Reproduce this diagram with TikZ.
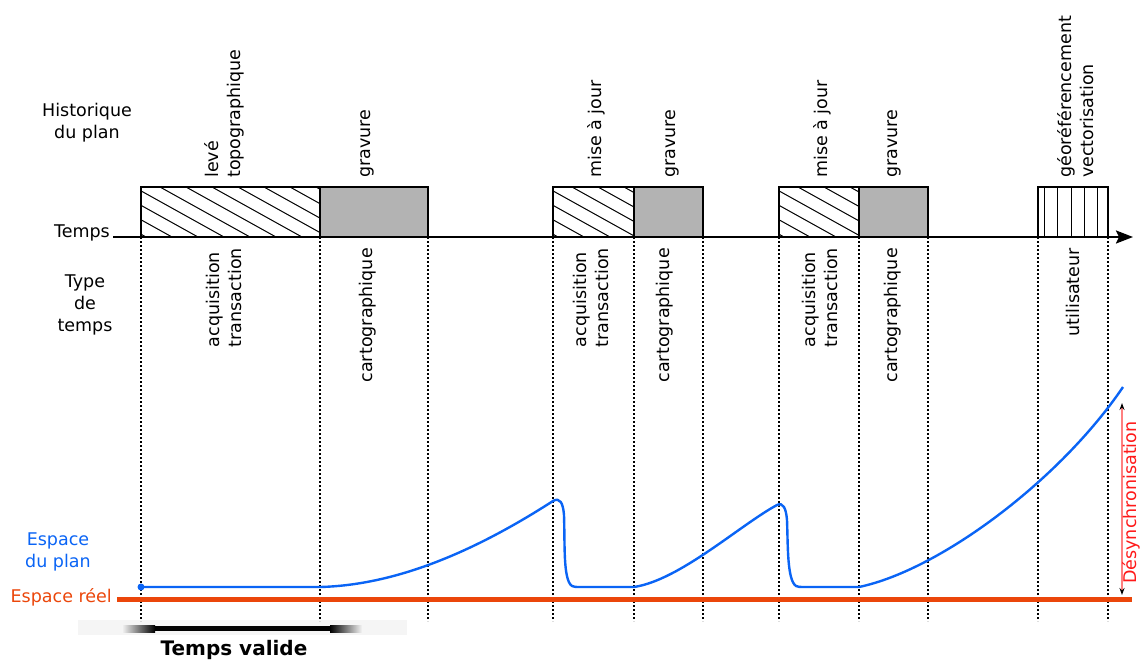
\documentclass[tikz,border=0pt]{standalone}
\usepackage{fontspec}
\setmainfont{DejaVu Sans}
\usetikzlibrary{arrows.meta}
\definecolor{bleuplan}{RGB}{10,100,245}
\definecolor{rougereel}{RGB}{235,70,10}
\definecolor{rougedesync}{RGB}{255,25,25}
\definecolor{rosedesync}{RGB}{255,128,128}
\definecolor{grisgravure}{RGB}{179,179,179}
\tikzset{
  texte/.style={font=\fontsize{17.5}{22}\selectfont, inner sep=0pt, align=center},
  vertical/.style={texte, rotate=90, align=left},
  limite/.style={line width=1.2pt, dash pattern=on 2pt off 2pt},
  boite/.style={draw, line width=1.3pt},
  hachure/.style={line width=1pt},
}
\begin{document}
\begin{tikzpicture}[x=1pt,y=-1pt]
\useasboundingbox (0,0) rectangle (1141,659);
\def\ybas{237}
\def\yhaut{187}
\def\ysol{599}
\def\yplan{587}
\fill[black!4] (78,620) rectangle (407,635);
\shade[left color=black!4, right color=black] (122,625) rectangle (155,632);
\fill[black] (155,626) rectangle (330,631);
\shade[left color=black, right color=black!4] (330,625) rectangle (362,632);
\node[font=\bfseries\fontsize{20}{24}\selectfont, inner sep=0pt, anchor=base] (valide) at (234,655) {Temps valide};
\foreach \x in {141,320,428,553,634,703,779,859,928,1038,1108}
  \draw[limite] (\x,\ybas) -- (\x,621);
\foreach \xa/\xb/\xc in {141/320/428,553/634/703,779/859/928}{
  \fill[grisgravure] (\xb,\yhaut) rectangle (\xc,\ybas);
  \begin{scope}
    \clip (\xa,\yhaut) rectangle (\xb,\ybas);
    \foreach \k in {-4,...,7} \draw[hachure] (\xa+19+26*\k,\yhaut) -- ++(90,50);
  \end{scope}
  \draw[boite] (\xa,\ybas) |- (\xc,\yhaut) -- (\xc,\ybas) (\xb,\yhaut) -- (\xb,\ybas);
}
\draw[boite] (1038,\ybas) |- (1108,\yhaut) -- (1108,\ybas);
\foreach \x in {1044,1057,1071,1084,1097} \draw[hachure] (\x,\yhaut) -- (\x,\ybas);
\node[texte] (historique) at (87,123) {Historique\\du plan};
\node[texte, anchor=base east] (temps) at (110,\ybas) {Temps};
\node[texte] (type) at (85,305) {Type\\de\\temps};
\coordinate (fleche) at (1133,\ybas);
\draw[line width=2.2pt, -{Stealth[length=17pt,width=13pt,inset=3pt]}] ([xshift=3pt]temps.base east) -- (fleche);
\node[vertical, anchor=west] (leve) at (224,178) {levé\\topographique};
\node[vertical, anchor=west] (gravurea) at (367,178) {gravure};
\node[vertical, anchor=west] (majb) at (596,178) {mise à jour};
\node[vertical, anchor=west] (gravureb) at (672,178) {gravure};
\node[vertical, anchor=west] (majc) at (822,178) {mise à jour};
\node[vertical, anchor=west] (gravurec) at (894,178) {gravure};
\node[vertical, anchor=west] (georef) at (1076,178) {géoréférencement\\vectorisation};
\node[vertical, anchor=east] (acqa) at (224,248) {acquisition\\transaction};
\node[vertical, anchor=east] (cartoa) at (368,248) {cartographique};
\node[vertical, anchor=east] (acqb) at (591,248) {acquisition\\transaction};
\node[vertical, anchor=east] (cartob) at (665,248) {cartographique};
\node[vertical, anchor=east] (acqc) at (820,248) {acquisition\\transaction};
\node[vertical, anchor=east] (cartoc) at (893,248) {cartographique};
\node[vertical, anchor=east] (util) at (1073,248) {utilisateur};
\node[texte, text=bleuplan] (espaceplan) at (58,552) {Espace\\du plan};
\node[texte, text=rougereel, anchor=base east] (reel) at (112,602) {Espace réel};
\coordinate (reelfin) at (1132,\ysol);
\draw[rougereel, line width=5pt] ([xshift=5pt]reel.east |- reelfin) -- (reelfin);
\fill[bleuplan] (141,\yplan) circle (3.5pt);
\draw[bleuplan, line width=2.4pt] (141,\yplan) -- (320,\yplan)
  .. controls (400,585) and (480,548) .. (553,501)
  .. controls (560,497) and (563,503) .. (564,515)
  .. controls (565,545) and (563,580) .. (572,586)
  .. controls (574,587) and (576,587) .. (580,\yplan) -- (634,\yplan)
  .. controls (680,580) and (740,525) .. (777,505)
  .. controls (783,502) and (786,508) .. (787,520)
  .. controls (788,545) and (787,580) .. (796,586)
  .. controls (798,587) and (800,587) .. (803,\yplan) -- (859,\yplan)
  .. controls (940,570) and (1060,480) .. (1123,387);
\coordinate (dhaut) at (1122,403);
\coordinate (dbas) at (1122,595);
\draw[rosedesync, line width=1.2pt, {Stealth[black,length=7pt,width=5pt]}-{Stealth[black,length=7pt,width=5pt]}] (dbas) -- (dhaut);
\node[texte, text=rougedesync, rotate=90, anchor=base west] (desync) at (1136,584) {Désynchronisation};
\end{tikzpicture}
\end{document}
